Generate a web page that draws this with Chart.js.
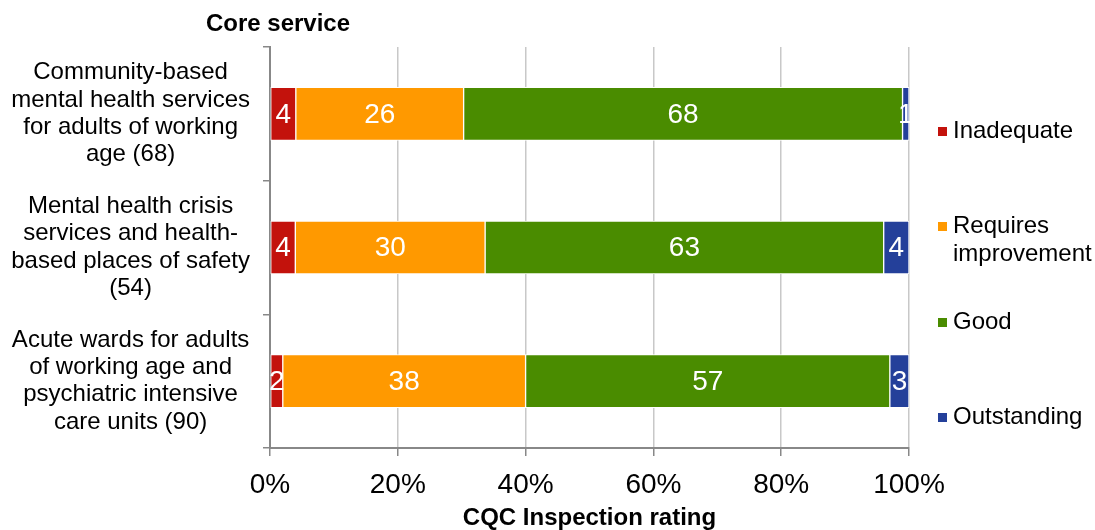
<!DOCTYPE html>
<html>
<head>
<meta charset="utf-8">
<script src="https://cdn.jsdelivr.net/npm/chart.js@4.4.1/dist/chart.umd.min.js"></script>
<style>
  html, body { margin: 0; padding: 0; background: #fff; }
  #wrap { width: 1095px; height: 530px; position: relative; }
</style>
</head>
<body>
<div id="wrap"><canvas id="c" width="1095" height="530"></canvas></div>
<script>
const categories = [
  ["Community-based", "mental health services", "for adults of working", "age (68)"],
  ["Mental health crisis", "services and health-", "based places of safety", "(54)"],
  ["Acute wards for adults", "of working age and", "psychiatric intensive", "care units (90)"]
];
const seriesNames = ["Inadequate", "Requires improvement", "Good", "Outstanding"];
const inadequate = [4, 4, 2];
const requiresImprovement = [26, 30, 38];
const good = [68, 63, 57];
const outstanding = [1, 4, 3];
const xTicks = [0, 20, 40, 60, 80, 100];
const colors = ["#C3120C", "#FF9900", "#4A8C00", "#24409A"];

const raw = [inadequate, requiresImprovement, good, outstanding];
const totals = categories.map((_, i) => raw.reduce((s, arr) => s + arr[i], 0));
const pct = raw.map(arr => arr.map((v, i) => v / totals[i] * 100));

const FONT = "'Liberation Sans', Arial, sans-serif";

const labelsPlugin = {
  id: 'segLabels',
  afterDatasetsDraw(chart) {
    const ctx = chart.ctx;
    ctx.save();
    ctx.fillStyle = '#fff';
    ctx.font = '28px ' + FONT;
    ctx.textAlign = 'center';
    ctx.textBaseline = 'middle';
    chart.data.datasets.forEach((ds, di) => {
      const meta = chart.getDatasetMeta(di);
      meta.data.forEach((bar, i) => {
        const cx = (bar.x + bar.base) / 2;
        ctx.fillText(String(raw[di][i]), cx, bar.y + 1);
      });
    });
    ctx.restore();
  }
};

const extrasPlugin = {
  id: 'extras',
  afterDraw(chart) {
    const ctx = chart.ctx;
    ctx.save();
    ctx.fillStyle = '#000';
    ctx.font = 'bold 24px ' + FONT;
    ctx.textAlign = 'center';
    ctx.textBaseline = 'middle';
    ctx.fillText('Core service', 278, 24);
    const items = [
      { lines: ["Inadequate"], y: 131 },
      { lines: ["Requires", "improvement"], y: 226 },
      { lines: ["Good"], y: 322 },
      { lines: ["Outstanding"], y: 417 }
    ];
    ctx.font = '24px ' + FONT;
    ctx.textAlign = 'left';
    items.forEach((it, k) => {
      ctx.fillStyle = colors[k];
      ctx.fillRect(938, it.y - 4, 9, 9);
      ctx.fillStyle = '#000';
      it.lines.forEach((ln, j) => ctx.fillText(ln, 953, it.y + j * 28));
    });
    ctx.restore();
  }
};

new Chart(document.getElementById('c'), {
  type: 'bar',
  data: {
    labels: categories,
    datasets: seriesNames.map((name, k) => ({
      label: name,
      data: pct[k],
      backgroundColor: colors[k],
      borderColor: '#ffffff',
      borderWidth: 1,
      borderSkipped: false,
      barThickness: 53
    }))
  },
  options: {
    indexAxis: 'y',
    responsive: false,
    animation: false,
    layout: { padding: { left: 0, right: 186, top: 47, bottom: 0 } },
    plugins: { legend: { display: false }, tooltip: { enabled: false } },
    scales: {
      x: {
        stacked: true,
        min: 0, max: 100,
        afterBuildTicks(scale) { scale.ticks = xTicks.map(v => ({ value: v })); },
        afterFit(scale) { scale.paddingLeft = 0; scale.paddingRight = 0; scale.height = 82; },
        ticks: {
          callback: v => v + '%',
          color: '#000',
          font: { family: FONT, size: 28, lineHeight: 1.1 },
          padding: 14,
          maxRotation: 0
        },
        grid: { color: '#C8C8C8', lineWidth: 1.5, tickLength: 8, tickColor: '#888' },
        border: { color: '#888', width: 2 },
        title: {
          display: true,
          text: 'CQC Inspection rating',
          color: '#000',
          font: { family: FONT, size: 24, weight: 'bold', lineHeight: 1.0 },
          padding: { top: 0, bottom: 0 }
        }
      },
      y: {
        stacked: true,
        afterFit(scale) { scale.width = 270; scale.paddingTop = 0; scale.paddingBottom = 0; },
        ticks: {
          crossAlign: 'center',
          color: '#000',
          font: { family: FONT, size: 24, lineHeight: 1.14 },
          padding: 13
        },
        grid: { drawOnChartArea: false, tickLength: 7, color: '#888', lineWidth: 1.5 },
        border: { color: '#888', width: 2 }
      }
    }
  },
  plugins: [labelsPlugin, extrasPlugin]
});
</script>
</body>
</html>
